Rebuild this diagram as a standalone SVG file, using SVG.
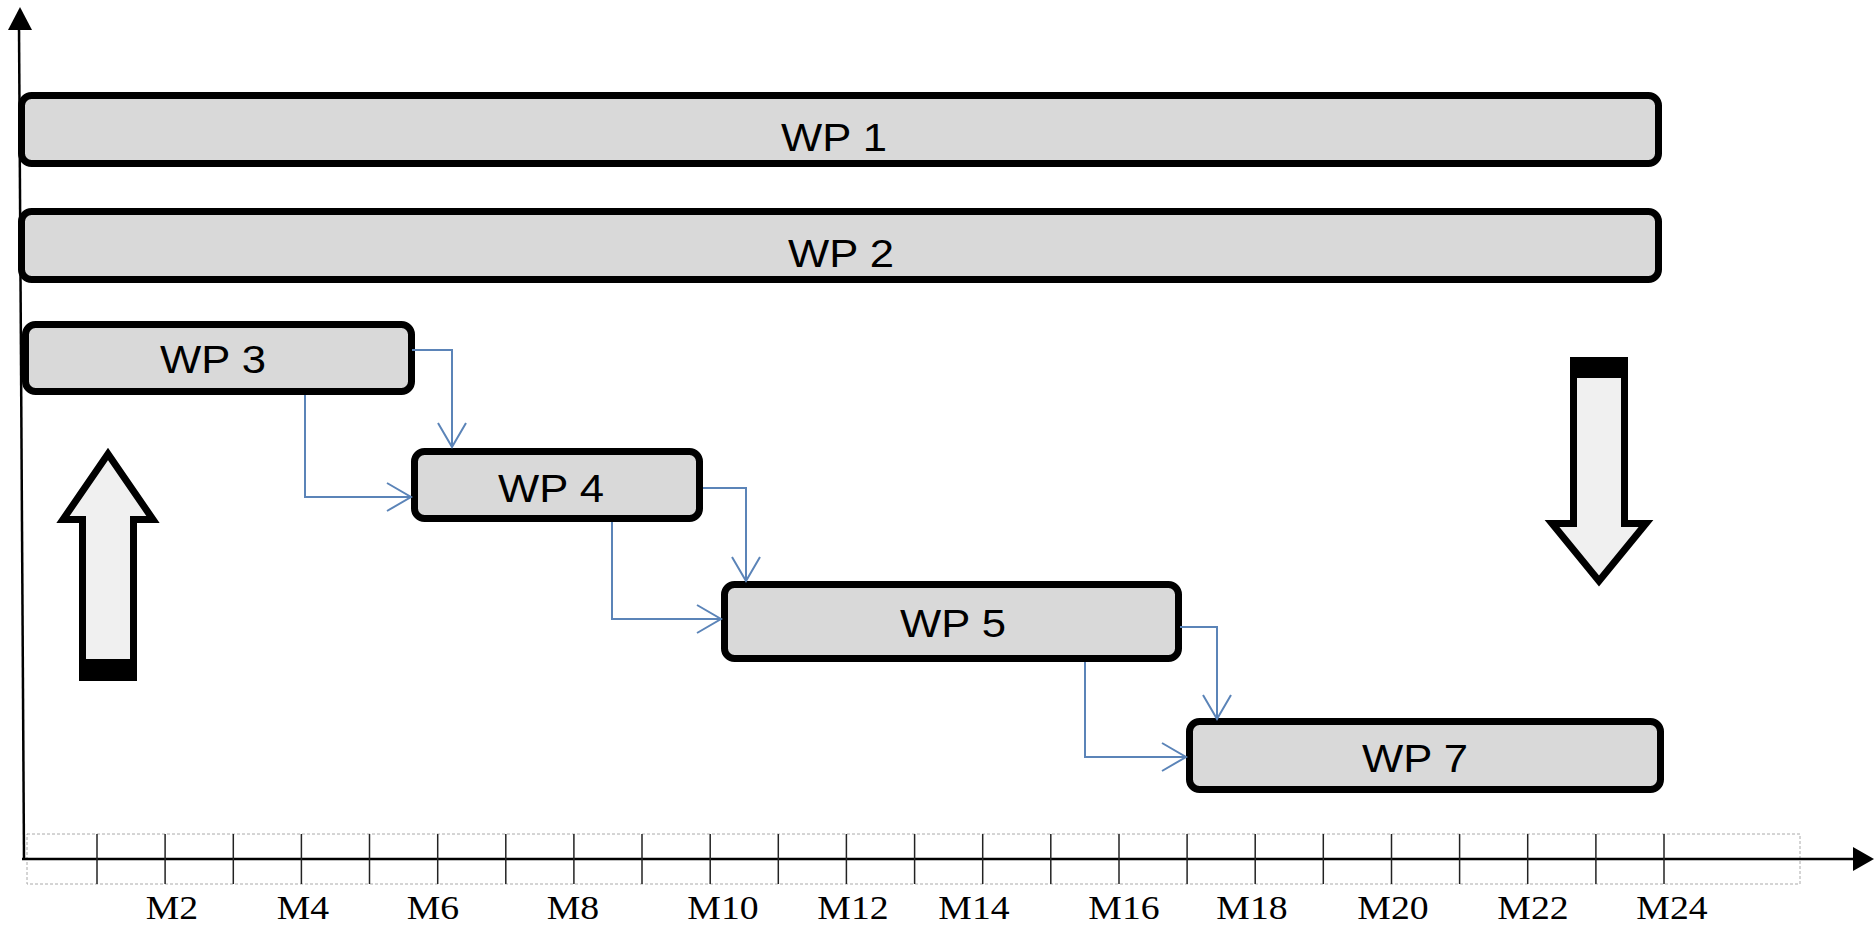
<svg xmlns="http://www.w3.org/2000/svg" width="1874" height="930" viewBox="0 0 1874 930">
<defs>
<style>
.wp{fill:#d9d9d9;stroke:#000;stroke-width:7}
.wpt{font-family:"Liberation Sans",Arial,sans-serif;font-size:39px;fill:#000;text-anchor:middle}
.ml{font-family:"Liberation Serif","Times New Roman",serif;font-size:34px;fill:#000;text-anchor:middle}
.con{fill:none;stroke:#5b84b8;stroke-width:2;marker-end:url(#open)}
.tick{stroke:#222;stroke-width:1.5}
.big{fill:#f0f0f0;stroke:#000;stroke-width:7;stroke-linejoin:miter}
</style>
<marker id="open" markerUnits="userSpaceOnUse" markerWidth="30" markerHeight="32" refX="25" refY="15" orient="auto">
<path d="M1,1 L25,15 L1,29" fill="none" stroke="#5b84b8" stroke-width="2"/>
</marker>
</defs>
<rect width="1874" height="930" fill="#fff"/>

<g id="axes">
<line x1="19" y1="26" x2="24" y2="859" stroke="#000" stroke-width="2.5"/>
<polygon points="20,7 8,30 32,30" fill="#000"/>
<rect x="27" y="834" width="1773" height="50" fill="none" stroke="#aaa" stroke-width="1" stroke-dasharray="3,2"/>
<line x1="22" y1="859" x2="1856" y2="859" stroke="#000" stroke-width="2.5"/>
<polygon points="1874,859 1853,847 1853,871" fill="#000"/>
<g class="tick">
<line x1="97" y1="834" x2="97" y2="884"/><line x1="165.1" y1="834" x2="165.1" y2="884"/><line x1="233.3" y1="834" x2="233.3" y2="884"/><line x1="301.4" y1="834" x2="301.4" y2="884"/><line x1="369.5" y1="834" x2="369.5" y2="884"/><line x1="437.7" y1="834" x2="437.7" y2="884"/><line x1="505.8" y1="834" x2="505.8" y2="884"/><line x1="573.9" y1="834" x2="573.9" y2="884"/><line x1="642" y1="834" x2="642" y2="884"/><line x1="710.2" y1="834" x2="710.2" y2="884"/><line x1="778.3" y1="834" x2="778.3" y2="884"/><line x1="846.4" y1="834" x2="846.4" y2="884"/><line x1="914.6" y1="834" x2="914.6" y2="884"/><line x1="982.7" y1="834" x2="982.7" y2="884"/><line x1="1050.8" y1="834" x2="1050.8" y2="884"/><line x1="1119" y1="834" x2="1119" y2="884"/><line x1="1187.1" y1="834" x2="1187.1" y2="884"/><line x1="1255.2" y1="834" x2="1255.2" y2="884"/><line x1="1323.3" y1="834" x2="1323.3" y2="884"/><line x1="1391.5" y1="834" x2="1391.5" y2="884"/><line x1="1459.6" y1="834" x2="1459.6" y2="884"/><line x1="1527.7" y1="834" x2="1527.7" y2="884"/><line x1="1595.9" y1="834" x2="1595.9" y2="884"/><line x1="1664" y1="834" x2="1664" y2="884"/>
</g>
<text class="ml" transform="translate(172,919) scale(1.11,1)">M2</text>
<text class="ml" transform="translate(303,919) scale(1.11,1)">M4</text>
<text class="ml" transform="translate(433,919) scale(1.11,1)">M6</text>
<text class="ml" transform="translate(573,919) scale(1.11,1)">M8</text>
<text class="ml" transform="translate(723,919) scale(1.11,1)">M10</text>
<text class="ml" transform="translate(853,919) scale(1.11,1)">M12</text>
<text class="ml" transform="translate(974,919) scale(1.11,1)">M14</text>
<text class="ml" transform="translate(1124,919) scale(1.11,1)">M16</text>
<text class="ml" transform="translate(1252,919) scale(1.11,1)">M18</text>
<text class="ml" transform="translate(1393,919) scale(1.11,1)">M20</text>
<text class="ml" transform="translate(1533,919) scale(1.11,1)">M22</text>
<text class="ml" transform="translate(1672,919) scale(1.11,1)">M24</text>
</g>

<g id="wp1"><rect class="wp" x="21.5" y="95.5" width="1637" height="68" rx="10"/><text class="wpt" transform="translate(834,151) scale(1.12,1)">WP 1</text></g>
<g id="wp2"><rect class="wp" x="21.5" y="211.5" width="1637" height="68" rx="10"/><text class="wpt" transform="translate(841,267) scale(1.12,1)">WP 2</text></g>
<g id="wp3"><rect class="wp" x="25.5" y="324.5" width="386" height="67" rx="10"/><text class="wpt" transform="translate(213,373) scale(1.12,1)">WP 3</text></g>
<g id="wp4"><rect class="wp" x="414.5" y="451.5" width="285" height="67" rx="10"/><text class="wpt" transform="translate(551,502) scale(1.12,1)">WP 4</text></g>
<g id="wp5"><rect class="wp" x="724.5" y="584.5" width="454" height="74" rx="10"/><text class="wpt" transform="translate(953,637) scale(1.12,1)">WP 5</text></g>
<g id="wp7"><rect class="wp" x="1189.5" y="721.5" width="471" height="68" rx="10"/><text class="wpt" transform="translate(1415,772) scale(1.12,1)">WP 7</text></g>

<g id="connectors">
<path class="con" d="M412,350 H452 V447"/>
<path class="con" d="M305,395 V497 H411"/>
<path class="con" d="M703,488 H746 V581"/>
<path class="con" d="M612,522 V619 H721"/>
<path class="con" d="M1180,627 H1217 V719"/>
<path class="con" d="M1085,662 V757 H1186"/>
</g>

<g id="arrow-up">
<path class="big" d="M108,454 L153,519.5 L133.5,519.5 L133.5,677.5 L82.5,677.5 L82.5,519.5 L63,519.5 Z"/>
<rect x="79" y="659" width="58" height="22" fill="#000"/>
</g>
<g id="arrow-down">
<path class="big" d="M1573.5,360.5 L1624.5,360.5 L1624.5,523.5 L1646,523.5 L1599,581 L1552,523.5 L1573.5,523.5 Z"/>
<rect x="1570" y="357" width="58" height="21" fill="#000"/>
</g>
</svg>
